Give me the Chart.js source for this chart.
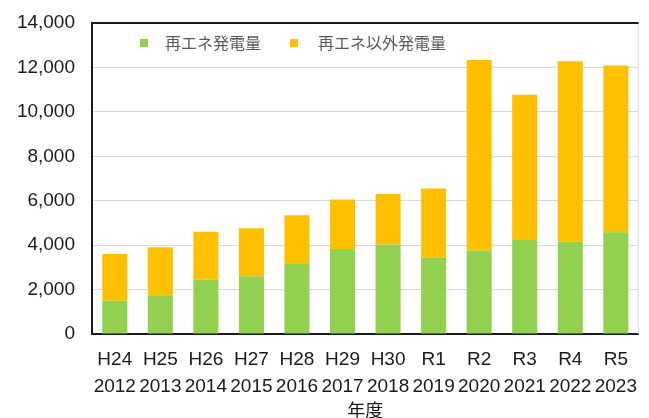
<!doctype html>
<html lang="ja">
  <head>
    <meta charset="UTF-8" />
    <title>発電量の推移</title>
    <script src="https://cdn.jsdelivr.net/npm/chart.js"></script>
    <style>
      html, body {
        margin: 0;
        padding: 0;
        background: #fff;
        overflow: hidden;
      }
      #wrap {
        width: 649px;
        height: 432px;
      }
    </style>
  </head>
  <body>
    <div id="wrap"><canvas id="chart" width="649" height="432"></canvas></div>

    <script>
      // 年度ラベル
      const eras = ['H24', 'H25', 'H26', 'H27', 'H28', 'H29', 'H30', 'R1', 'R2', 'R3', 'R4', 'R5'];
      const years = ['2012', '2013', '2014', '2015', '2016', '2017', '2018', '2019', '2020', '2021', '2022', '2023'];

      // 発電量
      const renewable = [1500, 1750, 2450, 2600, 3150, 3830, 4030, 3440, 3750, 4270, 4150, 4580];
      const nonRenewable = [2100, 2150, 2150, 2160, 2200, 2220, 2270, 3110, 8580, 6500, 8130, 7510];

      const yTicks = [0, 2000, 4000, 6000, 8000, 10000, 12000, 14000];

      const tickFont = { family: "'Liberation Sans', Arial, sans-serif", size: 19 };
      const jpFont = "'Noto Sans CJK JP', sans-serif";

      // 凡例をグラフ内に描く
      const innerLegend = {
        id: 'innerLegend',
        afterDatasetsDraw(chart) {
          const ctx = chart.ctx;
          const xs = [[140, 165], [290, 318]];
          ctx.save();
          ctx.font = '16px ' + jpFont;
          ctx.textBaseline = 'middle';
          chart.data.datasets.forEach((ds, i) => {
            ctx.fillStyle = ds.backgroundColor;
            ctx.fillRect(xs[i][0], 39, 8, 8);
            ctx.fillStyle = '#595959';
            ctx.fillText(ds.label, xs[i][1], 43);
          });
          ctx.restore();
        },
      };

      // 上辺と右辺の枠線
      const frame = {
        id: 'frame',
        afterDraw(chart) {
          const a = chart.chartArea;
          const ctx = chart.ctx;
          ctx.save();
          ctx.strokeStyle = '#d9d9d9';
          ctx.lineWidth = 1;
          ctx.beginPath();
          ctx.moveTo(a.right - 0.5, a.top);
          ctx.lineTo(a.right - 0.5, a.bottom);
          ctx.stroke();
          ctx.strokeStyle = '#1a1a1a';
          ctx.lineWidth = 2;
          ctx.beginPath();
          ctx.moveTo(a.left - 1, a.top);
          ctx.lineTo(a.right, a.top);
          ctx.stroke();
          ctx.restore();
        },
      };

      new Chart(document.getElementById('chart'), {
        type: 'bar',
        data: {
          labels: eras.map((e, i) => [e, years[i]]),
          datasets: [
            {
              label: '再エネ発電量',
              data: renewable,
              backgroundColor: '#92D050',
              categoryPercentage: 1,
              barPercentage: 0.55,
            },
            {
              label: '再エネ以外発電量',
              data: nonRenewable,
              backgroundColor: '#FFC000',
              categoryPercentage: 1,
              barPercentage: 0.55,
            },
          ],
        },
        options: {
          responsive: false,
          animation: false,
          layout: { padding: { top: 23, right: 1, left: 0, bottom: 0 } },
          plugins: {
            legend: { display: false },
            tooltip: { enabled: false },
          },
          scales: {
            x: {
              stacked: true,
              grid: { display: false, drawTicks: false },
              border: { color: '#1a1a1a', width: 2 },
              ticks: {
                color: '#1a1a1a',
                font: { ...tickFont, lineHeight: 1.42 },
                padding: 12,
                maxRotation: 0,
                autoSkip: false,
              },
              title: {
                display: true,
                text: '年度',
                color: '#1a1a1a',
                font: { family: jpFont, size: 18 },
                padding: { top: 0, bottom: 11 },
              },
              afterFit(scale) {
                scale.height = 432 - 334;
              },
            },
            y: {
              stacked: true,
              min: 0,
              max: 14000,
              afterBuildTicks(scale) {
                scale.ticks = yTicks.map((v) => ({ value: v }));
              },
              grid: { color: '#d9d9d9', drawTicks: true, tickLength: 17, tickColor: 'rgba(0,0,0,0)' },
              border: { color: '#1a1a1a', width: 2 },
              ticks: {
                color: '#1a1a1a',
                font: tickFont,
                padding: 0,
                callback: (v) => v.toLocaleString('en-US'),
              },
              afterFit(scale) {
                scale.width = 92;
              },
            },
          },
        },
        plugins: [innerLegend, frame],
      });
    </script>
  </body>
</html>
